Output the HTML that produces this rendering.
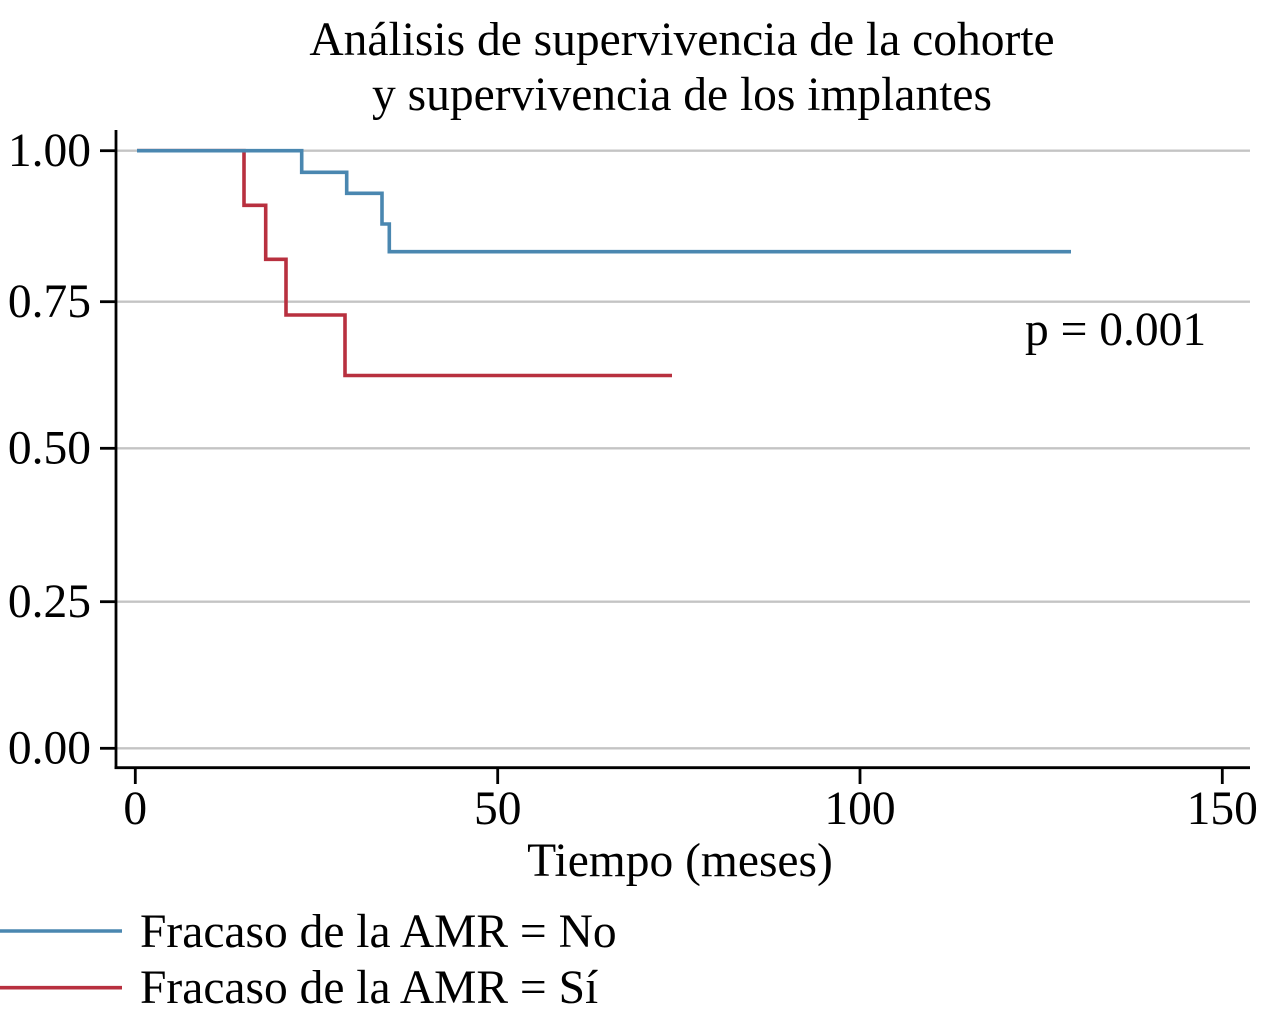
<!DOCTYPE html>
<html>
<head>
<meta charset="utf-8">
<style>
  html, body { margin: 0; padding: 0; background: #ffffff; }
  svg { display: block; }
  text { font-family: "Liberation Serif", "Times New Roman", serif; fill: #000; }
</style>
</head>
<body>
<svg width="1262" height="1024" viewBox="0 0 1262 1024" xmlns="http://www.w3.org/2000/svg">
  <rect width="1262" height="1024" fill="#ffffff"/>

  <!-- Title -->
  <text x="682" y="55" font-size="47.5" text-anchor="middle">Análisis de supervivencia de la cohorte</text>
  <text x="682" y="110" font-size="47.5" text-anchor="middle">y supervivencia de los implantes</text>

  <!-- Gridlines -->
  <g stroke="#c4c4c4" stroke-width="2.4">
    <line x1="117" y1="150.7" x2="1250" y2="150.7"/>
    <line x1="117" y1="301.7" x2="1250" y2="301.7"/>
    <line x1="117" y1="448.3" x2="1250" y2="448.3"/>
    <line x1="117" y1="601.7" x2="1250" y2="601.7"/>
    <line x1="117" y1="748.3" x2="1250" y2="748.3"/>
  </g>

  <!-- Axes -->
  <g stroke="#000" stroke-width="2.8" fill="none">
    <line x1="116" y1="130" x2="116" y2="769"/>
    <line x1="114.6" y1="767.7" x2="1250" y2="767.7"/>
    <!-- y ticks -->
    <line x1="100" y1="150.7" x2="116" y2="150.7"/>
    <line x1="100" y1="301.7" x2="116" y2="301.7"/>
    <line x1="100" y1="448.3" x2="116" y2="448.3"/>
    <line x1="100" y1="601.7" x2="116" y2="601.7"/>
    <line x1="100" y1="748.3" x2="116" y2="748.3"/>
    <!-- x ticks -->
    <line x1="135.3" y1="767.7" x2="135.3" y2="784"/>
    <line x1="497.7" y1="767.7" x2="497.7" y2="784"/>
    <line x1="860" y1="767.7" x2="860" y2="784"/>
    <line x1="1222.3" y1="767.7" x2="1222.3" y2="784"/>
  </g>

  <!-- Y tick labels -->
  <g font-size="47.5" text-anchor="end">
    <text x="91" y="166">1.00</text>
    <text x="91" y="317">0.75</text>
    <text x="91" y="463.5">0.50</text>
    <text x="91" y="617">0.25</text>
    <text x="91" y="763.5">0.00</text>
  </g>

  <!-- X tick labels -->
  <g font-size="47.5" text-anchor="middle">
    <text x="135.3" y="824">0</text>
    <text x="497.7" y="824">50</text>
    <text x="860" y="824">100</text>
    <text x="1222.3" y="824">150</text>
  </g>

  <!-- X axis title -->
  <text x="680" y="876" font-size="47.5" text-anchor="middle">Tiempo (meses)</text>

  <!-- Curves -->
  <path d="M137,150.7 H244 V205.3 H265.7 V259.3 H286 V315 H345 V375.5 H672"
        fill="none" stroke="#b8303f" stroke-width="3.6" stroke-linejoin="miter"/>
  <path d="M137,150.7 H301.7 V172.3 H346.7 V193.3 H382 V224 H389.3 V251.7 H1071"
        fill="none" stroke="#4a87b0" stroke-width="3.6" stroke-linejoin="miter"/>

  <!-- p-value -->
  <text x="1025" y="345" font-size="47.5">p = 0.001</text>

  <!-- Legend -->
  <line x1="0" y1="931" x2="122" y2="931" stroke="#4a87b0" stroke-width="3.6"/>
  <line x1="0" y1="987.7" x2="122" y2="987.7" stroke="#b8303f" stroke-width="3.6"/>
  <text x="140" y="947" font-size="47.5">Fracaso de la AMR = No</text>
  <text x="140" y="1003" font-size="47.5">Fracaso de la AMR = Sí</text>
</svg>
</body>
</html>
